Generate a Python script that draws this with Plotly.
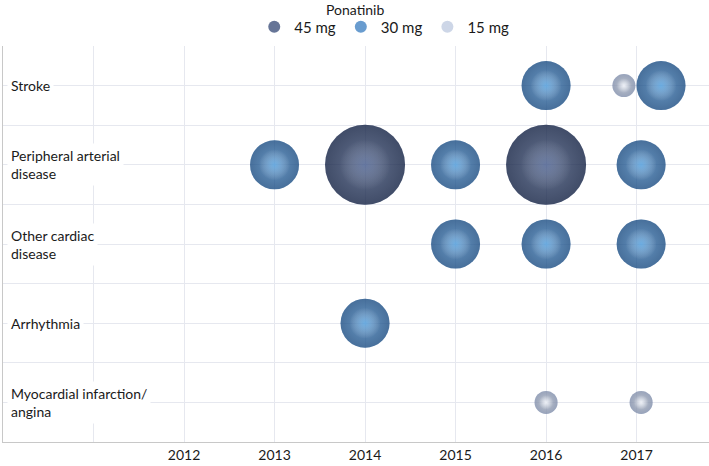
import plotly.graph_objects as go

# ---- data ----
categories = ["Myocardial infarction/<br>angina", "Arrhythmia", "Other cardiac<br>disease",
              "Peripheral arterial<br>disease", "Stroke"]
category_pos = [1, 3, 5, 7, 9]
year_ticks = [2011, 2012, 2013, 2014, 2015, 2016, 2017]
year_labels = ["", "2012", "2013", "2014", "2015", "2016", "2017"]

# 45 mg
x45 = [2014.0, 2016.0]
y45 = [7, 7]
s45 = [64, 64]
# 30 mg
x30 = [2016.0, 2017.27, 2013.0, 2015.0, 2017.05, 2015.0, 2016.0, 2017.05, 2014.0]
y30 = [9, 9, 7, 7, 7, 5, 5, 5, 3]
s30 = [24, 24, 24, 24, 24, 24, 24, 24, 24]
# 15 mg
x15 = [2016.86, 2016.0, 2017.05]
y15 = [9, 1, 1]
s15 = [5.3, 5.3, 5.3]

FONT = "Lato"
SIZEREF = 0.02

# name, x, y, size, base colour, rim colour, highlight colour
series = [
    ("45 mg", x45, y45, s45, "#253b6b", "rgba(5,12,30,0.55)", "rgba(105,130,185,0.45)"),
    ("30 mg", x30, y30, s30, "#2a72bb", "rgba(10,30,60,0.5)", "rgba(110,190,245,0.7)"),
    ("15 mg", x15, y15, s15, "#b8c5dd", "rgba(70,85,120,0.55)", "rgba(255,255,255,0.95)"),
]

fig = go.Figure()
for name, xs, ys, ss, base, rim, hl in series:
    fig.add_trace(go.Scatter(
        x=xs, y=ys, mode="markers", name=name, legendgroup=name,
        marker=dict(size=ss, sizemode="area", sizeref=SIZEREF,
                    color=base, line=dict(width=0)),
    ))
    fig.add_trace(go.Scatter(
        x=xs, y=ys, mode="markers", showlegend=False, hoverinfo="skip", legendgroup=name,
        marker=dict(size=ss, sizemode="area", sizeref=SIZEREF,
                    color=rim, line=dict(width=0),
                    gradient=dict(type="radial", color="rgba(0,0,0,0)")),
    ))
    fig.add_trace(go.Scatter(
        x=xs, y=ys, mode="markers", showlegend=False, hoverinfo="skip", legendgroup=name,
        marker=dict(size=[v * 0.4 for v in ss], sizemode="area", sizeref=SIZEREF,
                    color="rgba(255,255,255,0)", line=dict(width=0),
                    gradient=dict(type="radial", color=hl)),
    ))

for lab, yp in zip(categories, category_pos):
    fig.add_annotation(x=0, xref="paper", y=yp, yref="y", text=lab, xshift=4,
                       showarrow=False, xanchor="left", yanchor="middle", align="left",
                       bgcolor="white", borderpad=3,
                       font=dict(family=FONT, size=14, color="#1a1a1a"))

# legend title
fig.add_annotation(x=0.4986, xref="paper", y=1.091, yref="paper", text="Ponatinib",
                   showarrow=False, xanchor="center", yanchor="middle",
                   font=dict(family=FONT, size=14, color="#1a1a1a"))

fig.update_layout(
    width=709, height=466,
    margin=dict(l=3, r=0, t=46, b=24, autoexpand=False),
    paper_bgcolor="white", plot_bgcolor="white",
    font=dict(family=FONT, size=13, color="#1a1a1a"),
    showlegend=True,
    legend=dict(orientation="h", x=0.54, xanchor="center", y=1.048, yanchor="middle",
                font=dict(family=FONT, size=15), itemsizing="constant",
                bgcolor="rgba(0,0,0,0)", tracegroupgap=0),
    xaxis=dict(range=[2010, 2017.8], tickvals=year_ticks, ticktext=year_labels,
               showgrid=True, gridcolor="#e6e8ef", gridwidth=1,
               zeroline=False, showline=True, linecolor="#c8c8c8", linewidth=1,
               ticks="", tickfont=dict(family=FONT, size=14, color="#1a1a1a")),
    yaxis=dict(range=[0, 10], dtick=1, tick0=0, showticklabels=False,
               showgrid=True, gridcolor="#e6e8ef", gridwidth=1,
               zeroline=False, showline=True, linecolor="#c8c8c8", linewidth=1,
               ticks=""),
)

fig.write_html("out.html", config={"displayModeBar": False},
               post_script="document.body.style.margin='0';document.body.style.overflow='hidden';")
